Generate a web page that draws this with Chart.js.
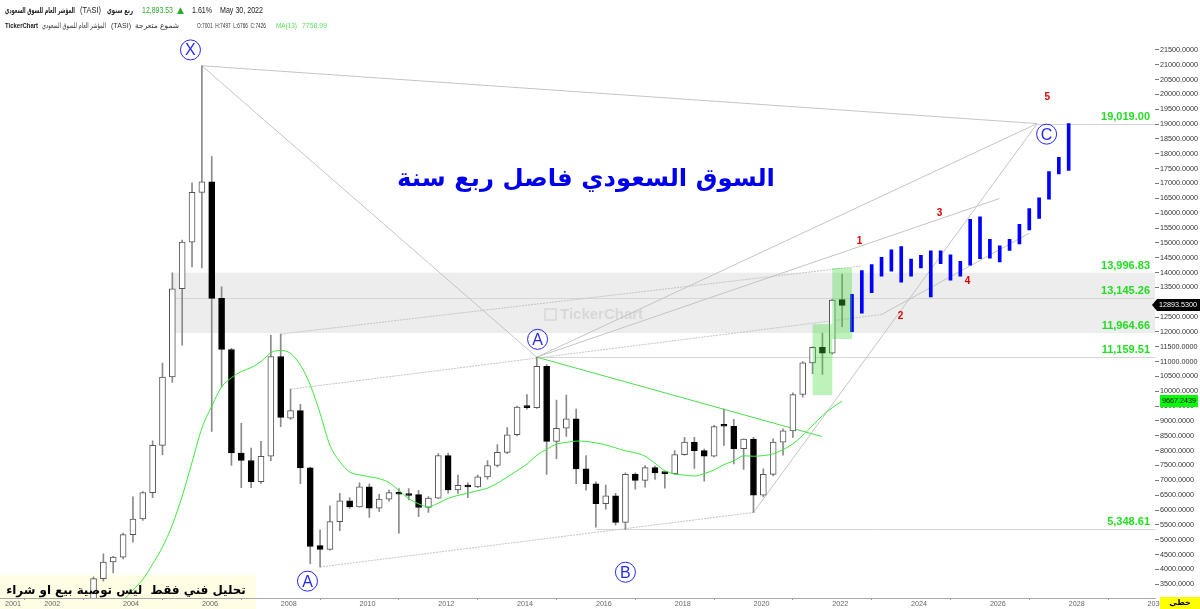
<!DOCTYPE html>
<html>
<head>
<meta charset="utf-8">
<script src="https://cdn.jsdelivr.net/npm/chart.js@4.4.1/dist/chart.umd.min.js"></script>
<style>
  html, body { margin: 0; padding: 0; background: #fff; overflow: hidden; }
  #wrap { width: 1200px; height: 609px; }
</style>
</head>
<body>
<div id="wrap"><canvas id="chart" width="1200" height="609"></canvas></div>
<script>
// quarterly candles of TASI
const quarters = [
  '2003Q2','2003Q3','2003Q4',
  '2004Q1','2004Q2','2004Q3','2004Q4','2005Q1','2005Q2','2005Q3','2005Q4',
  '2006Q1','2006Q2','2006Q3','2006Q4','2007Q1','2007Q2','2007Q3','2007Q4',
  '2008Q1','2008Q2','2008Q3','2008Q4','2009Q1','2009Q2','2009Q3','2009Q4',
  '2010Q1','2010Q2','2010Q3','2010Q4','2011Q1','2011Q2','2011Q3','2011Q4',
  '2012Q1','2012Q2','2012Q3','2012Q4','2013Q1','2013Q2','2013Q3','2013Q4',
  '2014Q1','2014Q2','2014Q3','2014Q4','2015Q1','2015Q2','2015Q3','2015Q4',
  '2016Q1','2016Q2','2016Q3','2016Q4','2017Q1','2017Q2','2017Q3','2017Q4',
  '2018Q1','2018Q2','2018Q3','2018Q4','2019Q1','2019Q2','2019Q3','2019Q4',
  '2020Q1','2020Q2','2020Q3','2020Q4','2021Q1','2021Q2','2021Q3','2021Q4',
  '2022Q1','2022Q2'
];
const opens = [
  2900, 3690, 4248,
  4415, 5173, 5697, 6585, 8178, 10482, 13453, 15023,
  16702, 17059, 13129, 11407, 7921, 7667, 6952, 7811,
  11173, 9090, 9346, 7420, 4803, 4672, 5607, 6308,
  6108, 6785, 6064, 6365, 6600, 6532, 6520, 6084,
  6398, 7834, 6675, 6832, 6775, 7119, 7500, 7944,
  8535, 9500, 9450, 10839, 8311, 8755, 9069, 7386,
  6886, 6218, 6475, 5584, 7199, 7001, 7426, 7253,
  7226, 7867, 8288, 8001, 7811, 8830, 8822, 8068,
  8388, 6498, 7199, 8288, 8668, 9891, 10959, 11483,
  11282, 13090
];
const highs = [
  3750, 4528, 4440,
  5220, 6442, 6620, 8330, 10949, 13987, 15090, 17026,
  20966, 17904, 13520, 11450, 8922, 8090, 8311, 11884,
  11927, 10071, 9557, 7450, 5330, 6141, 6565, 6420,
  6919, 6880, 6532, 6675, 6720, 6720, 6665, 6450,
  7900, 7921, 7176, 6920, 7176, 7667, 8201, 8779,
  9500, 9891, 11149, 10900, 9704, 9871, 9403, 7834,
  6950, 6842, 6560, 7250, 7250, 7497, 7480, 7270,
  8001, 8445, 8445, 8050, 8850, 9403, 9056, 8400,
  8450, 7386, 8401, 8735, 9950, 11000, 11500, 11961,
  13100, 13949
];
const lows = [
  2850, 3600, 3881,
  4350, 4916, 5650, 6420, 7867, 10300, 11550, 14188,
  14154, 8645, 10148, 7500, 6752, 6750, 6900, 7665,
  8812, 9050, 6886, 4194, 4081, 4650, 5306, 6050,
  6100, 5750, 5951, 6300, 5216, 6340, 5774, 5917,
  6380, 6565, 6560, 6418, 6750, 7040, 7450, 7900,
  8500, 9400, 9420, 7199, 7734, 8478, 6886, 6665,
  5420, 6031, 5500, 5348.61, 6699, 6766, 7033, 6732,
  7200, 7850, 7400, 6976, 7790, 8178, 7553, 7366,
  5917, 6450, 7150, 7844, 8445, 9800, 10590, 10572,
  11250, 12174
];
const closes = [
  3690, 4248, 4415,
  5173, 5697, 6585, 8178, 10482, 13453, 15023, 16702,
  17059, 13129, 11407, 7921, 7667, 6952, 7811, 11173,
  9123, 9346, 7420, 4772, 4672, 5607, 6308, 6108,
  6785, 6064, 6365, 6585, 6532, 6490, 6084, 6398,
  7834, 6675, 6832, 6775, 7119, 7500, 7944, 8535,
  9470, 9450, 10839, 8311, 8755, 9069, 7386, 6886,
  6218, 6475, 5584, 7199, 7001, 7426, 7253, 7226,
  7867, 8288, 8001, 7811, 8812, 8822, 8068, 8388,
  6498, 7199, 8288, 8668, 9891, 10959, 11483, 11282,
  13076, 12893.53
];

// MA(13) as drawn, from 2004Q1 to 2022Q2
const maQuarters = quarters.slice(3);
const maValues = [
  2950, 3303, 3660, 4174, 4755, 5500, 6468, 7607,
  8759, 9497, 10148, 10455, 10665, 10799, 10999, 11300,
  11373, 11276, 10882, 10215, 9256, 8178, 7634, 7283,
  7186, 7123, 7056, 6926, 6659, 6385, 6208, 6108,
  6231, 6391, 6492, 6568, 6652, 6735, 6899, 7109,
  7326, 7543, 7844, 8044, 8218, 8278, 8321, 8311,
  8261, 8194, 8094, 7994, 7927, 7811, 7577, 7326,
  7213, 7176, 7146, 7226, 7350, 7527, 7657, 7827,
  7811, 7834, 7894, 8034, 8228, 8512, 8846, 9179,
  9447, 9667.2439
];

// blue projected ranges
const projQuarters = [
  '2022Q3','2022Q4','2023Q1','2023Q2','2023Q3','2023Q4','2024Q1','2024Q2',
  '2024Q3','2024Q4','2025Q1','2025Q2','2025Q3','2025Q4','2026Q1','2026Q2',
  '2026Q3','2026Q4','2027Q1','2027Q2','2027Q3','2027Q4','2028Q1'
];
const projHighs = [
  13263, 14064, 14265, 14512, 14766, 14879, 14455, 14578,
  14732, 14732, 14599, 14378, 15790, 15880, 15122, 14899,
  15122, 15623, 16158, 16515, 17403, 17884, 19019
];
const projLows = [
  12007, 12628, 13320, 13877, 14044, 13677, 13877, 14154,
  13176, 14298, 13744, 13877, 14245, 14465, 14488, 14355,
  14745, 14966, 15433, 15824, 16468, 17326, 17437
];

const levels = [19019.00, 13996.83, 13145.26, 11964.66, 11159.51, 5348.61];
const yTicks = [3500, 4000, 4500, 5000, 5500, 6000, 6500, 7000, 7500, 8000, 8500, 9000,
  9500, 10000, 10500, 11000, 11500, 12000, 12500, 13000, 13500, 14000, 14500, 15000,
  15500, 16000, 16500, 17000, 17500, 18000, 18500, 19000, 19500, 20000, 20500, 21000, 21500];
const yearTicks = [2001, 2002, 2004, 2006, 2008, 2010, 2012, 2014, 2016, 2018, 2020, 2022, 2024, 2026, 2028, 2030];

const lastClose = 12893.53;
const maLast = 9667.2439;

// wave drawing anchors (time, value)
const waveLines = [
  { a: [2006.0, 20966], b: [2027.2, 19019], dash: [] },
  { a: [2006.0, 20966], b: [2014.5, 11149], dash: [] },
  { a: [2014.5, 11149], b: [2027.2, 19019], dash: [] },
  { a: [2014.5, 11149], b: [2026.24, 16492], dash: [] },
  { a: [2008.0, 11927], b: [2022.74, 14221], dash: [2, 1] },
  { a: [2008.25, 10071], b: [2023.25, 12585], dash: [2, 1] },
  { a: [2023.25, 12585], b: [2027.0, 15323], dash: [] },
  { a: [2009.0, 4081], b: [2020.0, 5917], dash: [2, 1] },
  { a: [2020.0, 5917], b: [2027.2, 19019], dash: [] }
];
const greenTrend = { a: [2014.5, 11149], b: [2021.73, 8478] };
const levelLineStarts = [[19019.00, 2027.2], [13145.26, 2005.25], [11159.51, 2014.5], [5348.61, 2016.0]];
const band = { from: 2005.25, top: 13996.83, bottom: 11964.66 };
const highlightBoxes = [
  { t0: 2021.5, t1: 2022.0, top: 12261, bottom: 9871 },
  { t0: 2022.0, t1: 2022.5, top: 14154, bottom: 11760 }
];
const circleLabels = [
  ['X', 2005.71, 21500], ['A', 2008.68, 3604], ['A', 2014.52, 11750],
  ['B', 2016.75, 3904], ['C', 2027.44, 18662]
];
const waveNumbers = [
  ['1', 2022.69, 15056], ['2', 2023.73, 12518], ['3', 2024.72, 15991],
  ['4', 2025.43, 13720], ['5', 2027.46, 19897]
];

const qt = s => +s.slice(0, 4) + (+s[5] - 1) / 4;
const axisFont = { family: "'Liberation Sans', Arial, sans-serif", size: 7.2 };

// text squeezed to a target width, keeping its height
function fitText(ctx, s, x0, y0, maxW) {
  const w = ctx.measureText(s).width;
  if (w <= maxW) { ctx.fillText(s, x0, y0); return; }
  ctx.save();
  ctx.translate(x0, y0);
  ctx.scale(maxW / w, 1);
  ctx.fillText(s, 0, 0);
  ctx.restore();
}

const decor = {
  id: 'decor',
  beforeDraw(chart) {
    const { ctx } = chart;
    // disclaimer box sits under axis labels and candles
    ctx.save();
    ctx.fillStyle = '#fffde4';
    ctx.fillRect(0, 575, 256, 34);
    ctx.restore();
  },
  beforeDatasetsDraw(chart) {
    const { ctx, chartArea: a, scales: { x, y } } = chart;
    ctx.save();
    ctx.beginPath();
    ctx.rect(a.left, a.top, a.right - a.left, a.bottom - a.top);
    ctx.clip();

    // grey zone
    const bx = x.getPixelForValue(band.from);
    const by0 = y.getPixelForValue(band.top), by1 = y.getPixelForValue(band.bottom);
    ctx.fillStyle = '#ededed';
    ctx.fillRect(bx, by0, a.right - bx, by1 - by0);

    // watermark
    ctx.fillStyle = 'rgba(190,190,190,0.45)';
    ctx.strokeStyle = 'rgba(190,190,190,0.45)';
    ctx.lineWidth = 1.5;
    ctx.strokeRect(545, 309, 11, 11);
    ctx.font = "bold 15px 'Liberation Sans', sans-serif";
    ctx.textBaseline = 'middle';
    ctx.fillText('TickerChart', 560, 315);

    // level lines
    ctx.lineWidth = 1;
    ctx.strokeStyle = '#d6d6d6';
    levelLineStarts.forEach(([v, t]) => {
      const py = Math.round(y.getPixelForValue(v)) + 0.5;
      ctx.beginPath();
      ctx.moveTo(x.getPixelForValue(t), py);
      ctx.lineTo(a.right, py);
      ctx.stroke();
    });

    // wave drawing lines
    ctx.strokeStyle = '#c4c4c4';
    waveLines.forEach(l => {
      ctx.setLineDash(l.dash);
      ctx.beginPath();
      ctx.moveTo(x.getPixelForValue(l.a[0]), y.getPixelForValue(l.a[1]));
      ctx.lineTo(x.getPixelForValue(l.b[0]), y.getPixelForValue(l.b[1]));
      ctx.stroke();
    });
    ctx.setLineDash([]);
    ctx.strokeStyle = '#4ddc4d';
    ctx.beginPath();
    ctx.moveTo(x.getPixelForValue(greenTrend.a[0]), y.getPixelForValue(greenTrend.a[1]));
    ctx.lineTo(x.getPixelForValue(greenTrend.b[0]), y.getPixelForValue(greenTrend.b[1]));
    ctx.stroke();
    ctx.restore();
  },
  afterDatasetsDraw(chart) {
    const { ctx, scales: { x, y } } = chart;
    ctx.save();

    // green highlight boxes
    ctx.fillStyle = 'rgba(60,220,60,0.35)';
    highlightBoxes.forEach(b => {
      const x0 = x.getPixelForValue(b.t0), x1 = x.getPixelForValue(b.t1);
      const y0 = y.getPixelForValue(b.top), y1 = y.getPixelForValue(b.bottom);
      ctx.fillRect(x0, y0, x1 - x0, y1 - y0);
    });

    // circled wave letters
    ctx.strokeStyle = '#2626ff';
    ctx.fillStyle = '#2626ff';
    ctx.lineWidth = 1;
    ctx.font = "16px 'Liberation Sans', sans-serif";
    ctx.textAlign = 'center';
    ctx.textBaseline = 'middle';
    circleLabels.forEach(([s, t, v]) => {
      const px = x.getPixelForValue(t), py = y.getPixelForValue(v);
      ctx.beginPath();
      ctx.arc(px, py, 10, 0, Math.PI * 2);
      ctx.stroke();
      ctx.fillText(s, px, py + 1);
    });

    // red wave counts
    ctx.fillStyle = '#e00000';
    ctx.font = "bold 10px 'Liberation Sans', sans-serif";
    waveNumbers.forEach(([s, t, v]) => ctx.fillText(s, x.getPixelForValue(t), y.getPixelForValue(v)));

    // level labels
    ctx.fillStyle = '#22dd22';
    ctx.font = "bold 11px 'Liberation Sans', sans-serif";
    ctx.textAlign = 'right';
    ctx.textBaseline = 'alphabetic';
    levels.forEach(v => {
      const py = y.getPixelForValue(v);
      ctx.fillText(v.toLocaleString('en-US', { minimumFractionDigits: 2, maximumFractionDigits: 2 }), 1150, py - 4);
    });

    // title
    ctx.fillStyle = '#0000f0';
    ctx.textAlign = 'center';
    ctx.textBaseline = 'middle';
    let fs = 32;
    ctx.font = `bold ${fs}px 'DejaVu Sans', sans-serif`;
    const tw = ctx.measureText('السوق السعودي فاصل ربع سنة').width;
    fs = Math.min(40, fs * 378 / tw);
    ctx.font = `bold ${fs}px 'DejaVu Sans', sans-serif`;
    ctx.fillText('السوق السعودي فاصل ربع سنة', 586, 180);

    // disclaimer text
    ctx.fillStyle = '#000';
    ctx.font = "bold 16px 'DejaVu Sans', sans-serif";
    const dtxt = 'تحليل فني فقط  ليس توصية بيع او شراء';
    const dw = ctx.measureText(dtxt).width;
    if (dw > 240) ctx.font = `bold ${16 * 240 / dw}px 'DejaVu Sans', sans-serif`;
    ctx.fillText(dtxt, 126, 591);

    // price tags on the axis
    const ly = Math.round(y.getPixelForValue(lastClose));
    ctx.fillStyle = '#000';
    ctx.beginPath();
    ctx.moveTo(1152, ly);
    ctx.lineTo(1157, ly - 6);
    ctx.lineTo(1200, ly - 6);
    ctx.lineTo(1200, ly + 6);
    ctx.lineTo(1157, ly + 6);
    ctx.closePath();
    ctx.fill();
    ctx.fillStyle = '#fff';
    ctx.textAlign = 'left';
    ctx.font = "7.2px 'Liberation Sans', sans-serif";
    fitText(ctx, lastClose.toFixed(4), 1159, ly + 0.5, 40);

    const my = Math.round(y.getPixelForValue(maLast));
    ctx.fillStyle = '#00ff00';
    ctx.fillRect(1160, my - 6, 38, 12);
    ctx.fillStyle = '#000';
    fitText(ctx, maLast.toFixed(4), 1162, my + 0.5, 35);

    // linear / log switch
    ctx.fillStyle = '#ffff00';
    ctx.fillRect(1160, 597, 40, 12);
    ctx.fillStyle = '#000';
    ctx.textAlign = 'center';
    ctx.font = "bold 8px 'DejaVu Sans', sans-serif";
    ctx.fillText('خطي', 1180, 603);

    // header
    ctx.textAlign = 'left';
    ctx.textBaseline = 'middle';
    const put = (s, px, py, w, color, font) => {
      ctx.fillStyle = color;
      ctx.font = font;
      fitText(ctx, s, px, py, w);
    };
    const fa = "bold 8px 'DejaVu Sans', sans-serif";
    const fl = "8.5px 'Liberation Sans', sans-serif";
    const fa2 = "7.5px 'DejaVu Sans', sans-serif";
    const fl2 = "8px 'Liberation Sans', sans-serif";
    put('المؤشر العام للسوق السعودي', 5, 11, 70, '#222', fa);
    put('(TASI)', 80, 11, 21, '#222', fl);
    put('ربع سنوي', 107, 11, 26, '#222', fa);
    put('12,893.53', 142, 11, 31, '#2fa82f', fl);
    put('▲', 177, 11, 9, '#2fa82f', "9px 'DejaVu Sans', sans-serif");
    put('1.61%', 192, 11, 20, '#222', fl);
    put('May 30, 2022', 220, 11, 43, '#222', fl);
    put('TickerChart', 5, 26, 33, '#222', "bold 8px 'Liberation Sans', sans-serif");
    put('المؤشر العام للسوق السعودي', 42, 26, 64, '#333', fa2);
    put('(TASI)', 111, 26, 20, '#333', fl2);
    put('شموع متعرجة', 135, 26, 56, '#333', fa2);
    put('O:7001  H:7497  L:6766  C:7426', 197, 26, 69, '#333', fl2);
    put('MA(13)', 276, 26, 21, '#5be05b', fl2);
    put('7758.99', 302, 26, 25, '#5be05b', fl2);
    ctx.restore();
  }
};

const candleX = quarters.map(qt);

new Chart(document.getElementById('chart'), {
  type: 'bar',
  data: {
    datasets: [
      {
        type: 'line',
        data: maQuarters.map((q, i) => ({ x: qt(q), y: maValues[i] })),
        borderColor: '#3ee83e',
        borderWidth: 1,
        pointRadius: 0,
        cubicInterpolationMode: 'monotone',
        order: 1
      },
      {
        data: quarters.map((q, i) => ({ x: candleX[i], y: [lows[i], highs[i]] })),
        backgroundColor: '#8a8a8a',
        barThickness: 1,
        grouped: false,
        order: 4
      },
      {
        data: quarters.map((q, i) => ({ x: candleX[i], y: [opens[i], closes[i]] })),
        backgroundColor: quarters.map((q, i) => closes[i] >= opens[i] ? '#ffffff' : '#000000'),
        borderColor: quarters.map((q, i) => closes[i] >= opens[i] ? '#555555' : '#000000'),
        borderWidth: 1,
        borderSkipped: false,
        minBarLength: 2,
        barThickness: 6,
        grouped: false,
        order: 3
      },
      {
        data: projQuarters.map((q, i) => ({ x: qt(q), y: [projLows[i], projHighs[i]] })),
        backgroundColor: '#0000ff',
        barThickness: 3,
        grouped: false,
        order: 2
      }
    ]
  },
  options: {
    responsive: false,
    animation: false,
    devicePixelRatio: 1,
    layout: { padding: 0 },
    plugins: { legend: { display: false }, tooltip: { enabled: false } },
    scales: {
      x: {
        type: 'linear',
        offset: false,
        min: 2000.876,
        max: 2030.191,
        afterBuildTicks: s => { s.ticks = yearTicks.map(v => ({ value: v })); },
        afterFit: s => { s.height = 11; },
        grid: { display: true, drawOnChartArea: false, drawTicks: true, tickLength: 2, color: '#999' },
        border: { display: true, color: '#aaa' },
        ticks: {
          align: 'start', autoSkip: false, maxRotation: 0, padding: 0,
          color: '#666', font: axisFont,
          callback: v => String(v)
        }
      },
      y: {
        position: 'right',
        beginAtZero: false,
        min: 3036,
        max: 23002.5,
        afterBuildTicks: s => { s.ticks = yTicks.map(v => ({ value: v })); },
        afterFit: s => { s.width = 45; },
        grid: { display: true, drawOnChartArea: false, drawTicks: true, tickLength: 4, color: '#777' },
        border: { display: false },
        ticks: {
          padding: 1, color: '#333', font: axisFont,
          callback: v => Number(v).toFixed(4)
        }
      }
    }
  },
  plugins: [decor]
});
</script>
</body>
</html>
